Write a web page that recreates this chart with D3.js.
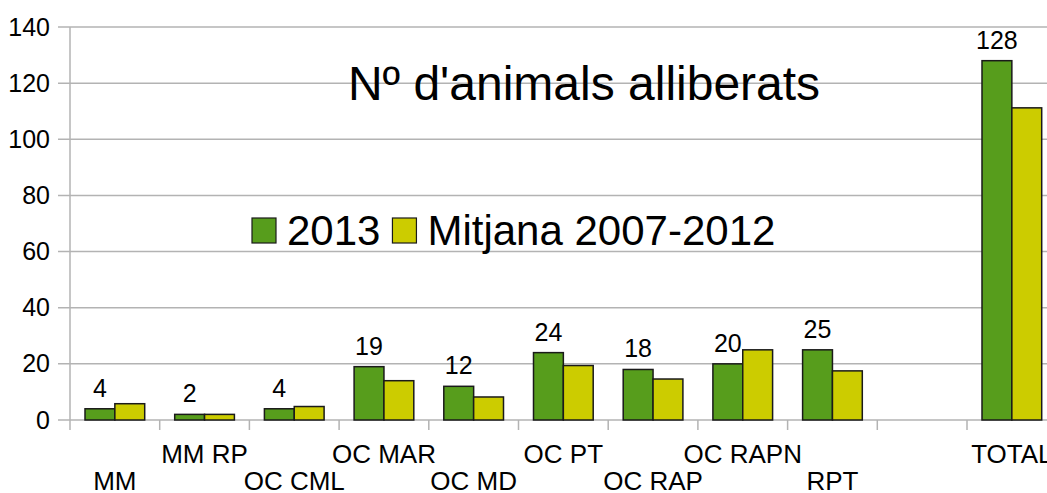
<!DOCTYPE html>
<html>
<head>
<meta charset="utf-8">
<script src="https://cdn.jsdelivr.net/npm/d3@7"></script>
<style>
  body { margin: 0; background: #fff; }
  svg { display: block; font-family: "Liberation Sans", Arial, sans-serif; }
</style>
</head>
<body>
<div id="chart"></div>
<script>
// data
var categories = ["MM", "MM RP", "OC CML", "OC MAR", "OC MD", "OC PT", "OC RAP", "OC RAPN", "RPT", "", "TOTAL"];
var values2013 = [4, 2, 4, 19, 12, 24, 18, 20, 25, null, 128];
var valuesMitjana = [5.8, 2, 4.8, 14, 8.2, 19.4, 14.6, 25, 17.5, null, 111.2];
var seriesNames = ["2013", "Mitjana 2007-2012"];
var seriesColors = ["#579d1c", "#cccc00"];
var yTicks = [0, 20, 40, 60, 80, 100, 120, 140];

var W = 1047, H = 493;
var plotLeft = 70, plotTop = 27, plotBottom = 420;
var bandW = 89.7;

var svg = d3.select("#chart").append("svg").attr("width", W).attr("height", H);

var x = d3.scaleBand().domain(d3.range(categories.length))
  .range([plotLeft, plotLeft + bandW * categories.length]);
var y = d3.scaleLinear().domain([0, 140]).range([plotBottom, plotTop]);
var xs = d3.scaleBand().domain([0, 1]).range([15, bandW - 15]);

// gridlines
svg.append("g").selectAll("line").data(yTicks).enter().append("line")
  .attr("x1", plotLeft - 12).attr("x2", W)
  .attr("y1", function (d) { return y(d); }).attr("y2", function (d) { return y(d); })
  .attr("stroke", "#b3b3b3").attr("stroke-width", 1.5);

// y axis
var yAxis = svg.append("g").attr("transform", "translate(" + plotLeft + ",0)")
  .call(d3.axisLeft(y).tickValues(yTicks).tickSize(0).tickPadding(20));
yAxis.select(".domain").remove();
yAxis.selectAll("text").attr("font-size", 25).attr("fill", "#000")
  .attr("font-family", "Liberation Sans, Arial, sans-serif");
svg.append("line").attr("x1", plotLeft).attr("x2", plotLeft).attr("y1", plotTop).attr("y2", plotBottom + 10)
  .attr("stroke", "#b3b3b3").attr("stroke-width", 1.5);

// x ticks at category boundaries
svg.append("g").selectAll("line").data(d3.range(1, categories.length)).enter().append("line")
  .attr("x1", function (d) { return x(d); }).attr("x2", function (d) { return x(d); })
  .attr("y1", plotBottom).attr("y2", plotBottom + 10)
  .attr("stroke", "#b3b3b3").attr("stroke-width", 1.5);

// bars
[values2013, valuesMitjana].forEach(function (vals, s) {
  var g = svg.append("g");
  vals.forEach(function (v, i) {
    if (v == null) return;
    g.append("rect")
      .attr("x", x(i) + xs(s))
      .attr("y", y(v))
      .attr("width", xs.bandwidth())
      .attr("height", y(0) - y(v))
      .attr("fill", seriesColors[s])
      .attr("stroke", "#1a1a1a").attr("stroke-width", 1.5);
  });
});

// value labels (2013)
values2013.forEach(function (v, i) {
  if (v == null) return;
  svg.append("text")
    .attr("x", x(i) + xs(0) + xs.bandwidth() / 2)
    .attr("y", y(v) - 12)
    .attr("text-anchor", "middle").attr("font-size", 25)
    .text(v);
});

// category labels, staggered
var k = 0;
categories.forEach(function (c, i) {
  if (!c) return;
  svg.append("text")
    .attr("x", x(i) + bandW / 2)
    .attr("y", k % 2 === 0 ? 490 : 463)
    .attr("text-anchor", "middle").attr("font-size", 26)
    .text(c);
  k++;
});

// title
svg.append("text").attr("x", 584).attr("y", 100).attr("text-anchor", "middle")
  .attr("font-size", 48).text("Nº d'animals alliberats");

// legend
var lg = svg.append("g");
var lx = 252;
seriesNames.forEach(function (n, s) {
  lg.append("rect").attr("x", lx).attr("y", 218).attr("width", 24).attr("height", 25)
    .attr("fill", seriesColors[s]).attr("stroke", "#1a1a1a").attr("stroke-width", 1.2);
  var t = lg.append("text").attr("x", lx + 35).attr("y", 245).attr("font-size", 42).text(n);
  lx += 35 + t.node().getComputedTextLength() + 12;
});
</script>
</body>
</html>
